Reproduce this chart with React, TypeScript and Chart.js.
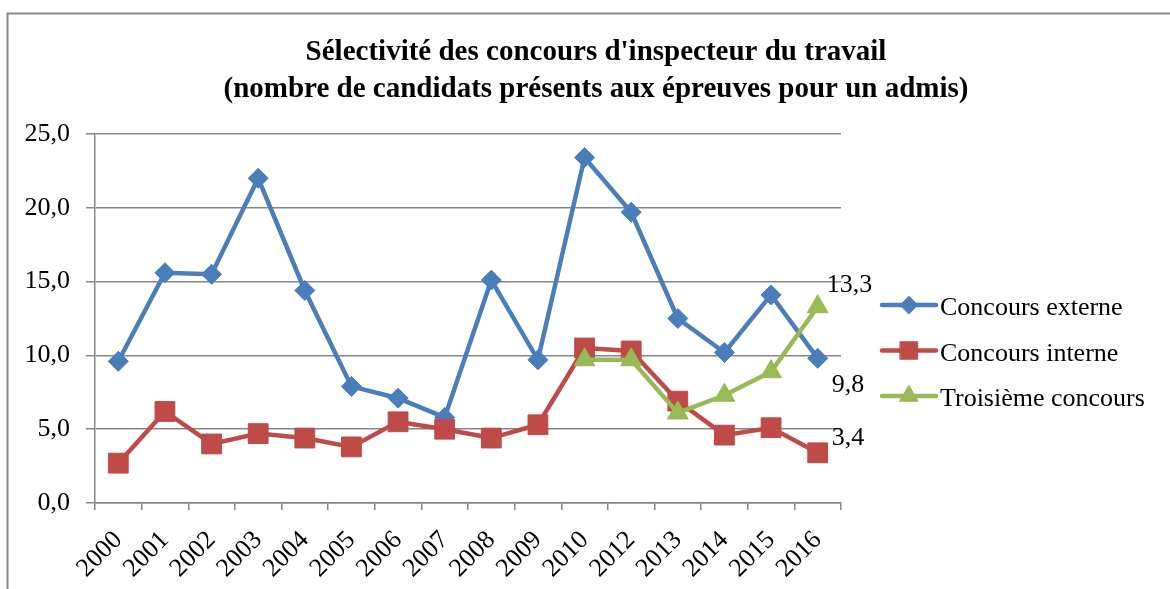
import React, { useEffect, useRef } from 'react';
import { Chart, registerables } from 'chart.js';
import { drawPoint } from 'chart.js/helpers';

Chart.register(...registerables);

const years = ['2000', '2001', '2002', '2003', '2004', '2005', '2006', '2007', '2008', '2009', '2010', '2012', '2013', '2014', '2015', '2016'];
const externe = [9.6, 15.6, 15.5, 22.0, 14.4, 7.9, 7.1, 5.8, 15.1, 9.7, 23.4, 19.7, 12.5, 10.2, 14.1, 9.8];
const interne = [2.7, 6.2, 4.0, 4.7, 4.4, 3.8, 5.5, 5.0, 4.4, 5.3, 10.5, 10.3, 6.9, 4.6, 5.1, 3.4];
const troisieme = [null, null, null, null, null, null, null, null, null, null, 9.7, 9.7, 6.1, 7.3, 8.9, 13.3];
const seriesNames = ['Concours externe', 'Concours interne', 'Troisième concours'];
const titleLines = ["Sélectivité des concours d'inspecteur du travail", '(nombre de candidats présents aux épreuves pour un admis)'];
const yMin = 0;
const yMax = 25;
const yStep = 5;

const FONT = "'Liberation Serif', 'Times New Roman', serif";
const colors = ['#4A7EBB', '#BE4B48', '#98B954'];
const pointStyles = ['rectRot', 'rect', 'triangle'];
const pointRadii = [10, 14, 12];
// label offsets (dx, dy baseline) relative to last point of each series
const endLabelOffsets = [
  [14, 34],
  [14, -8],
  [9, -15],
];

const fmt = (v: number) => v.toFixed(1).replace('.', ',');

const decorPlugin = {
  id: 'decor',
  beforeDraw(chart: any) {
    const ctx = chart.ctx;
    ctx.save();
    ctx.fillStyle = '#ffffff';
    ctx.fillRect(0, 0, chart.width, chart.height);
    ctx.strokeStyle = '#8a8a8a';
    ctx.lineWidth = 2;
    ctx.beginPath();
    ctx.moveTo(7.5, chart.height + 5);
    ctx.lineTo(7.5, 13.5);
    ctx.lineTo(chart.width + 5, 13.5);
    ctx.stroke();
    // title
    ctx.fillStyle = '#000';
    ctx.font = `bold 29px ${FONT}`;
    ctx.textAlign = 'center';
    ctx.textBaseline = 'alphabetic';
    ctx.fillText(titleLines[0], 596, 60);
    ctx.fillText(titleLines[1], 596, 97);
    ctx.restore();
  },
  afterDraw(chart: any) {
    const ctx = chart.ctx;
    ctx.save();
    // end labels
    ctx.font = `26px ${FONT}`;
    ctx.fillStyle = '#000';
    ctx.textAlign = 'left';
    ctx.textBaseline = 'alphabetic';
    chart.data.datasets.forEach((ds: any, i: number) => {
      const meta = chart.getDatasetMeta(i);
      const last = ds.data.length - 1;
      const el = meta.data[last];
      const v = ds.data[last];
      if (el && v != null) {
        ctx.fillText(fmt(v), el.x + endLabelOffsets[i][0], el.y + endLabelOffsets[i][1]);
      }
    });
    // legend
    const lx0 = 882;
    const lx1 = 936;
    const ly0 = 305;
    const lgap = 45.5;
    chart.data.datasets.forEach((ds: any, i: number) => {
      const y = ly0 + i * lgap;
      ctx.strokeStyle = colors[i];
      ctx.lineWidth = 4.5;
      ctx.lineCap = 'round';
      ctx.beginPath();
      ctx.moveTo(lx0, y);
      ctx.lineTo(lx1, y);
      ctx.stroke();
      ctx.fillStyle = colors[i];
      ctx.lineWidth = 1;
      drawPoint(ctx, { pointStyle: pointStyles[i], radius: pointRadii[i] * 0.88, rotation: 0, borderWidth: 1 } as any, (lx0 + lx1) / 2, y);
      ctx.fillStyle = '#000';
      ctx.font = `26px ${FONT}`;
      ctx.textAlign = 'left';
      ctx.textBaseline = 'alphabetic';
      ctx.fillText(ds.label, 940, y + 10);
    });
    ctx.restore();
  },
};

export default function App() {
  const ref = useRef<HTMLCanvasElement>(null);
  useEffect(() => {
    if (!ref.current) return;
    const mk = (i: number, data: any[], order: number) => ({
      label: seriesNames[i],
      data,
      borderColor: colors[i],
      backgroundColor: colors[i],
      borderWidth: 4.5,
      pointStyle: pointStyles[i],
      pointRadius: pointRadii[i],
      pointBorderWidth: 1,
      pointBorderColor: colors[i],
      pointBackgroundColor: colors[i],
      tension: 0,
      order,
    });
    const chart = new Chart(ref.current, {
      type: 'line',
      data: {
        labels: years,
        datasets: [mk(0, externe, 2), mk(1, interne, 1), mk(2, troisieme, 0)],
      },
      options: {
        responsive: false,
        animation: false,
        devicePixelRatio: 1,
        layout: { padding: { top: 134, left: 0, right: 1170 - 841, bottom: 0 } },
        plugins: {
          legend: { display: false },
          title: { display: false },
          tooltip: { enabled: false },
        },
        scales: {
          x: {
            type: 'category',
            offset: true,
            grid: {
              offset: true,
              drawOnChartArea: false,
              drawTicks: true,
              tickLength: 7,
              color: '#868686',
              lineWidth: 1.5,
            },
            border: { display: true, color: '#868686', width: 1.5 },
            ticks: {
              autoSkip: false,
              maxRotation: 45,
              minRotation: 45,
              padding: 15,
              color: '#000',
              font: { family: FONT, size: 26 },
            },
            afterFit: (s: any) => {
              s.height = 589 - 503;
            },
          },
          y: {
            min: yMin,
            max: yMax,
            ticks: {
              stepSize: yStep,
              padding: 16,
              color: '#000',
              font: { family: FONT, size: 26 },
              callback: (v: any) => fmt(Number(v)),
            },
            grid: {
              color: '#868686',
              lineWidth: 1.5,
              drawTicks: true,
              tickLength: 9,
            },
            border: { display: true, color: '#868686', width: 1.5 },
            afterFit: (s: any) => {
              s.width = 95;
            },
          },
        },
      },
      plugins: [decorPlugin],
    });
    return () => chart.destroy();
  }, []);
  return (
    <div style={{ position: 'absolute', left: 0, top: 0, width: 1170, height: 589 }}>
      <canvas ref={ref} width={1170} height={589} style={{ width: 1170, height: 589, display: 'block' }} />
    </div>
  );
}
